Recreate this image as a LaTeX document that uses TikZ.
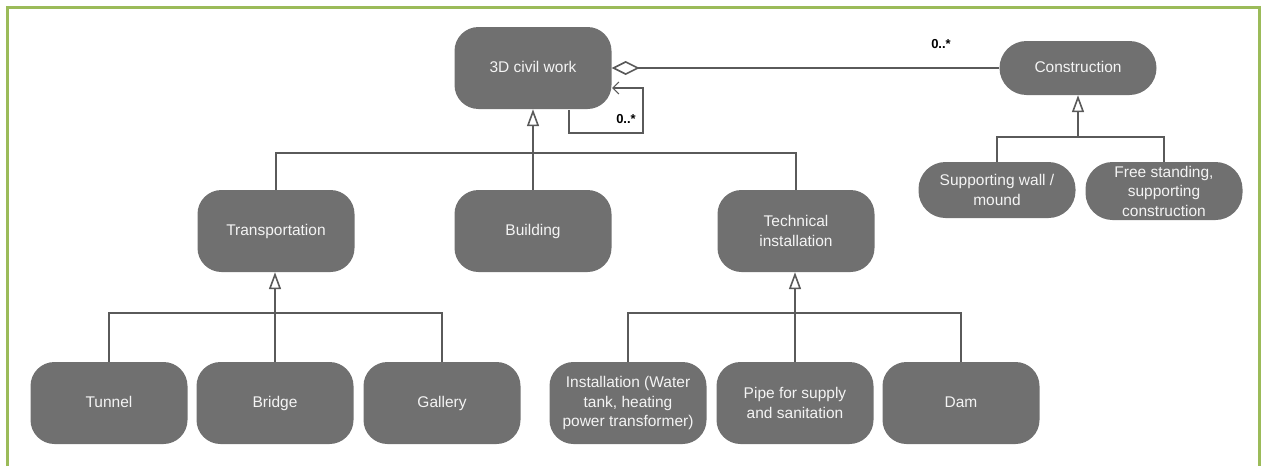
\documentclass[tikz,border=0pt]{standalone}
\usepackage{fontspec}
\setmainfont{Liberation Sans}
\usetikzlibrary{arrows.meta}
\definecolor{boxgray}{HTML}{707070}
\definecolor{linegray}{HTML}{5A5A5A}
\definecolor{framegreen}{HTML}{9BBB59}
\definecolor{boxtext}{HTML}{F4F4F4}
\begin{document}
\begin{tikzpicture}[x=1pt,y=-1pt,
  cls/.style={fill=boxgray, text=boxtext, rounded corners=24pt, minimum width=157pt,
    minimum height=82pt, align=center, font=\fontsize{15.5}{19.5}\selectfont, inner sep=1pt},
  one/.style={cls, text height=11pt, text depth=3pt},
  pill/.style={cls, minimum height=56pt, rounded corners=27pt},
  conn/.style={draw=linegray, line width=1.6pt},
  gen/.style={conn, -{Triangle[open, length=17pt, width=12pt, fill=white]}},
  mult/.style={font=\bfseries\fontsize{13}{15}\selectfont, text=black}
]
\useasboundingbox (0,0) rectangle (1261,466);
% frame
\draw[framegreen, line width=3pt] (7,466) -- (7,7) -- (1259,7) -- (1259,466);

% nodes
\node[one] (civil) at (533,68) {3D civil work};
\node[pill, one, minimum height=54pt, rounded corners=27pt] (constr) at (1078,68) {Construction};
\node[pill] (sup) at (997,190) {Supporting wall /\\mound};
\node[pill, minimum height=58pt] (free) at (1164,191) {Free standing,\\supporting\\construction};

\node[one] (trans) at (276,231) {Transportation};
\node[one] (bldg) at (533,231) {Building};
\node[cls] (tech) at (796,231) {Technical\\installation};

\node[one] (tunnel) at (109,403) {Tunnel};
\node[one] (bridge) at (275,403) {Bridge};
\node[one] (gallery) at (442,403) {Gallery};

\node[cls] (inst) at (628,403) {Installation (Water\\tank, heating\\power transformer)};
\node[cls] (pipe) at (795,403) {Pipe for supply\\and sanitation};
\node[one] (dam) at (961,403) {Dam};

% aggregation civil - construction
\draw[conn, {Diamond[open, length=28pt, width=14pt, fill=white]}-] (civil.east) -- (constr.west);
\node[mult] (m1) at (941,44) {0..*};

% self association
\coordinate (l1) at (569,110);
\coordinate (l2) at (612,88);
\draw[conn, -{Straight Barb[length=6pt, width=12pt, line width=1.2pt]}] (l1) -- (569,133) -- (643,133) -- (643,88) -- (l2);
\node[mult] (m2) at (626,119) {0..*};

% generalization civil
\coordinate (j1) at (533,153);
\draw[gen] (bldg.north) -- (civil.south);
\draw[conn] (trans.north) |- (j1) -| (tech.north);

% generalization transportation
\coordinate (j2) at (275,313);
\draw[gen] (bridge.north) -- (bridge.north |- trans.south);
\draw[conn] (tunnel.north) |- (j2) -| (gallery.north);

% generalization technical installation
\coordinate (j3) at (795,313);
\draw[gen] (pipe.north) -- (pipe.north |- tech.south);
\draw[conn] (inst.north) |- (j3) -| (dam.north);

% generalization construction
\coordinate (j4) at (1078,137);
\draw[gen] (j4) -- (constr.south);
\draw[conn] (sup.north) |- (j4) -| (free.north);
\end{tikzpicture}
\end{document}
